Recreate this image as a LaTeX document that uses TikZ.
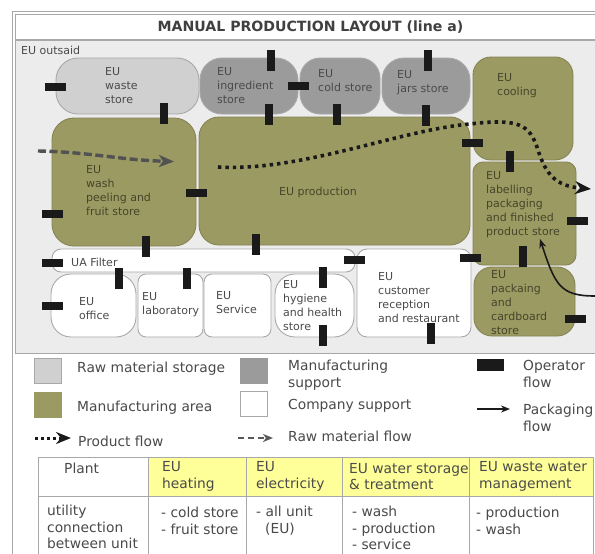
\documentclass[tikz,border=0pt]{standalone}
\usepackage{fontspec}
\setmainfont{DejaVu Sans}
\usetikzlibrary{arrows.meta}
\definecolor{olivec}{HTML}{9C9A63}
\definecolor{supc}{HTML}{9B9B9B}
\definecolor{rawc}{HTML}{D0D0D0}
\definecolor{bgc}{HTML}{ECECEC}
\definecolor{linec}{HTML}{A8A8A8}
\definecolor{txtc}{HTML}{4A4A4A}
\definecolor{oltxt}{HTML}{45452A}
\definecolor{barc}{HTML}{1A1A1A}
\definecolor{headc}{HTML}{FFFF99}
\tikzset{
  box/.style={draw=linec,line width=0.9pt,inner sep=0pt,outer sep=0pt},
  rawbox/.style={box,fill=rawc},
  supbox/.style={box,fill=supc},
  olbox/.style={box,fill=olivec,draw=olivec!85!black},
  whbox/.style={box,fill=white},
  lab/.style={inner sep=0pt,anchor=west,align=left,text=txtc,font=\fontsize{11}{14}\selectfont},
  ollab/.style={lab,text=oltxt},
  leg/.style={inner sep=0pt,anchor=west,align=left,text=txtc,font=\fontsize{13.8}{17}\selectfont},
  tab/.style={inner sep=0pt,anchor=west,align=left,text=txtc,font=\fontsize{13.8}{16.8}\selectfont},
  opbar/.style={fill=barc,inner sep=0pt,outer sep=0pt},
  swatch/.style={box,inner sep=0pt,minimum width=27pt,minimum height=25pt},
  tline/.style={draw=linec,line width=1pt}
}
% name, x0, y0, x1, y1, radius, style
\newcommand\unitbox[7]{%
  \pgfmathsetmacro\boxw{#4-#2}\pgfmathsetmacro\boxh{#5-#3}%
  \pgfmathsetmacro\boxx{(#4+#2)/2}\pgfmathsetmacro\boxy{(#5+#3)/2}%
  \node[#7,rounded corners=#6pt,minimum width=\boxw pt,minimum height=\boxh pt] (#1) at (\boxx,\boxy) {};}
\newcommand\hb[3]{\node[opbar,minimum width=21pt,minimum height=8pt] (#1) at (#2,#3) {};}
\newcommand\vb[3]{\node[opbar,minimum width=8pt,minimum height=21pt] (#1) at (#2,#3) {};}
\begin{document}
\begin{tikzpicture}[x=1pt,y=-1pt]
\useasboundingbox (0,0) rectangle (595,554);
\fill[white] (0,0) rectangle (595,554);
% frame: outer line runs off the bottom and right of the page
\node[draw=linec,fill=white,line width=1pt,minimum width=600pt,minimum height=560pt,inner sep=0pt] (frame) at (312,291) {};
\node[draw=linec,fill=white,line width=0.8pt,minimum width=600pt,minimum height=25pt,inner sep=0pt] (band) at (315,26.5) {};
\node[draw=linec,fill=bgc,line width=1pt,minimum width=600pt,minimum height=313pt,inner sep=0pt] (inner) at (315,196.5) {};
\node[inner sep=0pt,text=black!75,font=\fontsize{14.1}{16}\bfseries\selectfont] (title) at (310.5,27) {MANUAL PRODUCTION LAYOUT (line a)};
\node[lab] (outsaid) at (21,50.5) {EU outsaid};
% units
\unitbox{waste}{56}{58}{199}{114}{22}{rawbox}
\unitbox{ingr}{200}{58}{298}{114}{22}{supbox}
\unitbox{cold}{300}{58}{380}{114}{20}{supbox}
\unitbox{jars}{382}{58}{470}{114}{22}{supbox}
\unitbox{cooling}{473}{57}{573}{160}{18}{olbox}
\unitbox{wash}{52}{118}{196}{246}{22}{olbox}
\unitbox{prod}{199}{117}{470}{245}{20}{olbox}
\unitbox{label}{473}{162}{576}{265}{10}{olbox}
\unitbox{pack}{474}{267}{575}{336}{18}{olbox}
\unitbox{filter}{52}{249}{355}{272}{9}{whbox}
\unitbox{office}{51}{274}{136}{337}{20}{whbox}
\unitbox{labo}{138}{274}{203}{337}{8}{whbox}
\unitbox{serv}{204}{274}{271}{337}{8}{whbox}
\unitbox{hyg}{275}{274}{354}{337}{20}{whbox}
\unitbox{cust}{357}{249}{471}{337}{10}{whbox}
% unit labels
\node[lab] (t1) at (105,86) {EU\\waste\\store};
\node[lab] (t2) at (217,86) {EU\\ingredient\\store};
\node[lab] (t3) at (318,81) {EU\\cold store};
\node[lab] (t4) at (397,82.5) {EU\\jars store};
\node[ollab] (t5) at (497,86) {EU\\cooling};
\node[ollab] (t6) at (86,191) {EU\\wash\\peeling and\\fruit store};
\node[ollab] (t7) at (279,192) {EU production};
\node[ollab] (t8) at (486,205) {EU\\labelling\\packaging\\and finished\\product store};
\node[ollab] (t9) at (491,303) {EU\\packaing\\and\\cardboard\\store};
\node[lab] (t10) at (71,262) {UA Filter};
\node[lab] (t11) at (79,309) {EU\\office};
\node[lab] (t12) at (142,305) {EU\\laboratory};
\node[lab] (t13) at (216,303) {EU\\Service};
\node[lab] (t14) at (283,306) {EU\\hygiene\\and health\\store};
\node[lab] (t15) at (378,298) {EU\\customer\\reception\\and restaurant};
% flows
\coordinate (pa) at (218,167);\coordinate (pb) at (591,189);
\draw[black!90,line width=3.6pt,dash pattern=on 3.4pt off 4pt,-{Stealth[length=16pt,width=13pt,inset=5pt]}]
  (pa) .. controls (300,172) and (400,130) .. (470,124) .. controls (520,118) and (530,125) .. (538,150) .. controls (546,175) and (556,186) .. (pb);
\coordinate (ra) at (38,151);\coordinate (rb) at (174,161.5);
\draw[black!68,line width=3.4pt,dash pattern=on 8pt off 3.5pt,-{Stealth[length=15pt,width=12pt,inset=4pt]}] (ra) .. controls (90,152) and (120,160) .. (rb);
\coordinate (fa) at (595,296);\coordinate (fb) at (540,239);
\draw[barc,line width=1.6pt,-{Stealth[length=9pt,width=7pt]}] (fa) .. controls (560,296) and (555,285) .. (fb);
% operator bars
\hb{b1}{55.5}{87}\vb{b2}{163.5}{113.5}\vb{b3}{271}{60.5}\hb{b4}{298.5}{85.5}
\vb{b5}{269}{114.5}\vb{b6}{337}{114}\vb{b7}{427.5}{60.5}\vb{b8}{426}{115}
\hb{b9}{472.5}{142.5}\vb{b10}{510}{161.5}\hb{b11}{196}{193}\hb{b12}{52.5}{214}
\vb{b13}{146}{246.5}\vb{b14}{256}{244.5}\hb{b15}{52.5}{262.5}\vb{b16}{118.5}{278}
\vb{b17}{187}{278.5}\hb{b18}{52}{306}\hb{b19}{354.5}{260}\hb{b20}{470.5}{258}
\vb{b21}{323}{277.5}\vb{b22}{322.5}{335.5}\vb{b23}{431}{333.5}\vb{b24}{523}{256.5}
\hb{b25}{577}{220.5}\hb{b26}{575.5}{319}
% legend
\node[swatch,fill=rawc] (s1) at (47.5,371) {};
\node[swatch,fill=olivec,draw=olivec] (s2) at (47.5,404.5) {};
\node[swatch,fill=supc,draw=supc] (s3) at (254,371) {};
\node[swatch,fill=white] (s4) at (254,403.5) {};
\node[opbar,minimum width=27pt,minimum height=12pt] (s5) at (490.5,365) {};
\node[leg] (l1) at (77,369) {Raw material storage};
\node[leg] (l2) at (77,408) {Manufacturing area};
\node[leg] (l3) at (288,375) {Manufacturing\\support};
\node[leg] (l4) at (288,406) {Company support};
\node[leg] (l5) at (78,441) {Product flow};
\node[leg] (l6) at (288,436) {Raw material flow};
\node[leg] (l7) at (523,374) {Operator\\flow};
\node[leg] (l8) at (523,417.5) {Packaging\\flow};
\coordinate (ka) at (35,438);\coordinate (kb) at (71,438);
\draw[barc,line width=3pt,dash pattern=on 3pt off 3pt,-{Stealth[length=15pt,width=12pt,inset=5pt]}] (ka) -- (kb);
\coordinate (qa) at (238,438);\coordinate (qb) at (273,438);
\draw[black!65,line width=2pt,dash pattern=on 6pt off 4pt,-{Stealth[length=10pt,width=8pt,inset=3pt]}] (qa) -- (qb);
\coordinate (ga) at (477,409);\coordinate (gb) at (510,409);
\draw[barc,line width=1.6pt,-{Stealth[length=9pt,width=7pt]}] (ga) -- (gb);
% table
\fill[headc] (148,457) rectangle (593,496);
\draw[tline] (38,557) -- (38,457) -- (593,457) -- (593,557);
\draw[tline] (38,496) -- (593,496);
\draw[tline] (148,457) -- (148,557);
\draw[tline] (246.5,457) -- (246.5,557);
\draw[tline] (342,457) -- (342,557);
\draw[tline] (469,457) -- (469,557);
\node[tab] (h1) at (64,468) {Plant};
\node[tab] (h2) at (162,476.5) {EU\\heating};
\node[tab] (h3) at (256,476.5) {EU\\electricity};
\node[tab] (h4) at (349,476.5) {EU water storage\\\& treatment};
\node[tab] (h5) at (479,476.5) {EU waste water\\management};
\node[tab] (c1) at (47,527) {utility\\connection\\between unit};
\node[tab] (c2) at (161,520.5) {- cold store\\- fruit store};
\node[tab] (c3) at (256,520.5) {- all unit\\\hspace*{9pt}(EU)};
\node[tab] (c4) at (352,528) {- wash\\- production\\- service};
\node[tab] (c5) at (476,520.5) {- production\\- wash};
\end{tikzpicture}
\end{document}
